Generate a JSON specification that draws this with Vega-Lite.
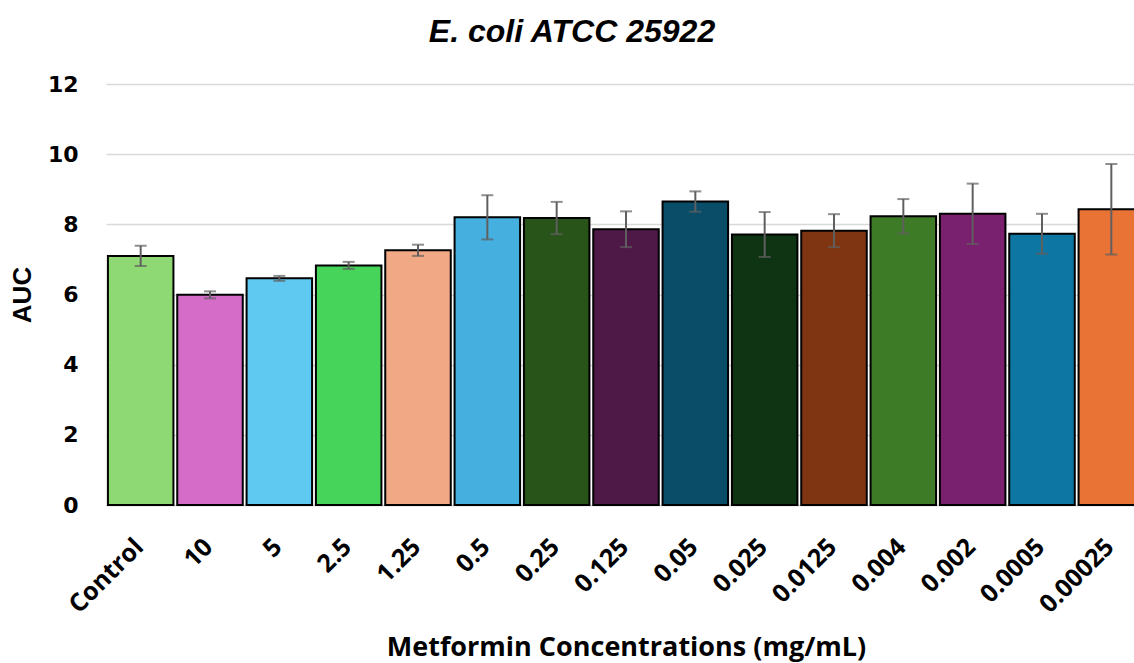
{
  "$schema": "https://vega.github.io/schema/vega-lite/v6.json",
  "autosize": "none",
  "width": 1040,
  "height": 421,
  "padding": {"left": 106, "top": 84, "right": 0, "bottom": 158},
  "background": "white",
  "config": {"view": {"stroke": null}},
  "title": {
    "text": "E. coli ATCC 25922",
    "font": "Liberation Sans",
    "fontSize": 32,
    "fontWeight": "bold",
    "fontStyle": "italic",
    "color": "#000000",
    "anchor": "middle",
    "dx": -54,
    "offset": 24
  },
  "data": {
    "values": [
      {"conc": "Control", "auc": 7.10, "err": 0.29},
      {"conc": "10", "auc": 5.99, "err": 0.10},
      {"conc": "5", "auc": 6.46, "err": 0.07},
      {"conc": "2.5", "auc": 6.83, "err": 0.10},
      {"conc": "1.25", "auc": 7.26, "err": 0.16},
      {"conc": "0.5", "auc": 8.20, "err": 0.63},
      {"conc": "0.25", "auc": 8.18, "err": 0.46},
      {"conc": "0.125", "auc": 7.86, "err": 0.51},
      {"conc": "0.05", "auc": 8.65, "err": 0.29},
      {"conc": "0.025", "auc": 7.71, "err": 0.64},
      {"conc": "0.0125", "auc": 7.82, "err": 0.47},
      {"conc": "0.004", "auc": 8.23, "err": 0.49},
      {"conc": "0.002", "auc": 8.30, "err": 0.86},
      {"conc": "0.0005", "auc": 7.73, "err": 0.57},
      {"conc": "0.00025", "auc": 8.43, "err": 1.29}
    ]
  },
  "encoding": {
    "x": {
      "field": "conc",
      "type": "nominal",
      "sort": null,
      "scale": {"paddingInner": 0.055, "paddingOuter": 0.0275},
      "axis": {
        "title": "Metformin Concentrations (mg/mL)",
        "titleFont": "Open Sans",
        "titleFontSize": 27,
        "titleFontWeight": "bold",
        "titleColor": "#000000",
        "titleBaseline": "alphabetic",
        "titleY": 150,
        "labelFont": "Open Sans",
        "labelFontSize": 25,
        "labelFontWeight": "bold",
        "labelColor": "#000000",
        "labelAngle": -45,
        "labelAlign": "right",
        "labelBaseline": "top",
        "labelPadding": 29,
        "labelDx": -7,
        "labelOffset": -10,
        "ticks": false,
        "domain": true,
        "domainColor": "#d9d9d9",
        "domainWidth": 1.5,
        "grid": false
      }
    }
  },
  "layer": [
    {
      "mark": {"type": "bar", "stroke": "#000000", "strokeWidth": 2},
      "encoding": {
        "y": {
          "field": "auc",
          "type": "quantitative",
          "scale": {"domain": [0, 12], "nice": false},
          "axis": {
            "title": "AUC",
            "titleFont": "Liberation Sans",
            "titleFontSize": 26,
            "titleFontWeight": "bold",
            "titleColor": "#000000",
            "titleX": -84,
            "titleBaseline": "middle",
            "titleAlign": "center",
            "values": [0, 2, 4, 6, 8, 10, 12],
            "labelFont": "DejaVu Sans",
            "labelFontSize": 22,
            "labelFontWeight": "bold",
            "labelColor": "#000000",
            "labelPadding": 28,
            "ticks": false,
            "domain": false,
            "grid": true,
            "gridColor": "#d9d9d9",
            "gridWidth": 1.5
          }
        },
        "color": {
          "field": "conc",
          "type": "nominal",
          "legend": null,
          "scale": {
            "domain": ["Control", "10", "5", "2.5", "1.25", "0.5", "0.25", "0.125", "0.05", "0.025", "0.0125", "0.004", "0.002", "0.0005", "0.00025"],
            "range": ["#8FD974", "#D56DC8", "#60C9F2", "#46D45A", "#F1A985", "#45AFDF", "#285419", "#4E1847", "#0A4D69", "#0F3413", "#7F3511", "#3E7B26", "#79206E", "#0E76A2", "#E97335"]
          }
        }
      }
    },
    {
      "mark": {
        "type": "errorbar",
        "ticks": {"size": 12, "thickness": 2, "color": "#5f5f5f"},
        "rule": {"strokeWidth": 2, "color": "#5f5f5f"}
      },
      "encoding": {
        "y": {"field": "auc", "type": "quantitative", "title": "AUC"},
        "yError": {"field": "err"}
      }
    }
  ]
}
